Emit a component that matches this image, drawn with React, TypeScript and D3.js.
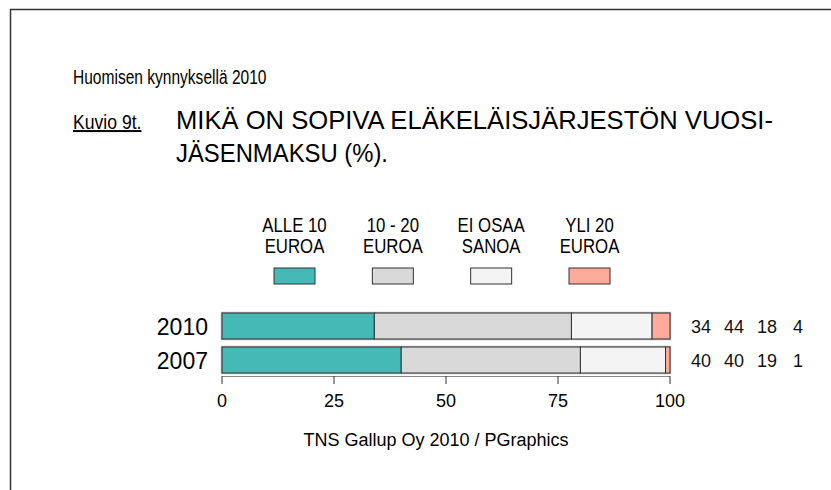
import React from "react";
import * as d3 from "d3";

const years = ["2010", "2007"];
const categories = ["ALLE 10|EUROA", "10 - 20|EUROA", "EI OSAA|SANOA", "YLI 20|EUROA"];
const values2010 = [34, 44, 18, 4];
const values2007 = [40, 40, 19, 1];
const xTicks = [0, 25, 50, 75, 100];
const colors = ["#45B9B5", "#D9D9D9", "#F4F4F4", "#FFAA9B"];

const W = 831;
const H = 490;
const valueCols = [711, 744, 777, 803];

export default function App() {
  const seriesByYear: Record<string, number[]> = { "2010": values2010, "2007": values2007 };
  const x = d3.scaleLinear().domain([0, 100]).range([222, 670]);
  const y = d3.scaleBand<string>().domain(years).range([309, 377]).paddingInner(8 / 34).paddingOuter(4 / 34);
  const legX = d3.scalePoint<string>().domain(categories).range([294.5, 589.5]);
  const bw = y.bandwidth();
  const font = "'Liberation Sans', Arial, sans-serif";

  return (
    <svg width={W} height={H} style={{ position: "absolute", left: 0, top: 0 }} fontFamily={font}>
      <rect x={0} y={0} width={W} height={H} fill="#fff" />
      <path d={`M10.5,${H} V9.5 H${W}`} fill="none" stroke="#333" strokeWidth={1.5} />

      <text transform="translate(73,84) scale(0.74,1)" fontSize={21} fill="#000">Huomisen kynnyksellä 2010</text>
      <text transform="translate(73,129) scale(0.88,1)" fontSize={20} fill="#000" textDecoration="underline">Kuvio 9t.</text>
      <text x={176} y={129} fontSize={26} fill="#000" textLength={597} lengthAdjust="spacingAndGlyphs">MIKÄ ON SOPIVA ELÄKELÄISJÄRJESTÖN VUOSI-</text>
      <text x={176} y={162} fontSize={26} fill="#000" textLength={212} lengthAdjust="spacingAndGlyphs">JÄSENMAKSU (%).</text>

      {categories.map((c, i) => {
        const cx = legX(c)!;
        const [l1, l2] = c.split("|");
        return (
          <g key={c}>
            <text transform={`translate(${cx},232) scale(0.8,1)`} fontSize={21} textAnchor="middle">{l1}</text>
            <text transform={`translate(${cx},253) scale(0.8,1)`} fontSize={21} textAnchor="middle">{l2}</text>
            <rect x={cx - 20.5} y={268} width={41} height={16} fill={colors[i]} stroke="#333" strokeWidth={1} />
          </g>
        );
      })}

      {years.map((yr) => {
        const vals = seriesByYear[yr];
        let acc = 0;
        const y0 = y(yr)!;
        return (
          <g key={yr}>
            <rect x={x(0)} y={y0} width={x(100) - x(0)} height={bw} fill="none" stroke="#bbb" strokeWidth={2.5} />
            {vals.map((v, i) => {
              const s = acc;
              acc += v;
              return (
                <rect key={i} x={x(s)} y={y0} width={x(s + v) - x(s)} height={bw} fill={colors[i]} stroke="#333" strokeWidth={1} />
              );
            })}
            <text x={208} y={y0 + bw / 2 + 8.5} fontSize={23} textAnchor="end">{yr}</text>
            {vals.map((v, i) => (
              <text key={"v" + i} x={valueCols[i]} y={y0 + bw / 2 + 6.5} fontSize={18} textAnchor="end" fill="#111">{v}</text>
            ))}
          </g>
        );
      })}

      <line x1={x(0)} x2={x(100)} y1={376.5} y2={376.5} stroke="#888" strokeWidth={1} />
      {xTicks.map((t) => (
        <g key={t}>
          <line x1={x(t)} x2={x(t)} y1={376} y2={384} stroke="#333" strokeWidth={1} />
          <text x={x(t)} y={407} fontSize={18} textAnchor="middle">{t}</text>
        </g>
      ))}

      <text x={436} y={446} fontSize={18} textAnchor="middle">TNS Gallup Oy 2010 / PGraphics</text>
    </svg>
  );
}
